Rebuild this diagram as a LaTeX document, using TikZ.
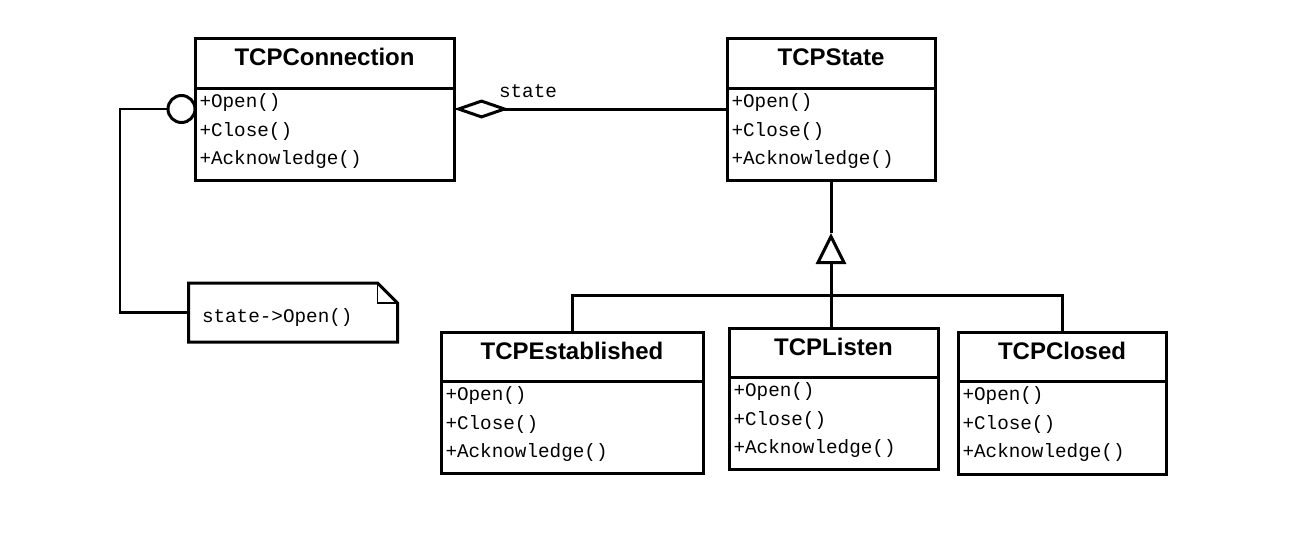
\documentclass[tikz,border=0pt]{standalone}
\usepackage{fontspec}
\setmainfont{Liberation Sans}
\setmonofont{Liberation Mono}
\usetikzlibrary{arrows.meta,positioning,calc}

\begin{document}
\begin{tikzpicture}[x=1pt,y=-1pt,line width=3pt,
  clase/.style={draw,rectangle,inner sep=0pt,outer sep=0pt},
  titulo/.style={font=\fontsize{24}{24}\selectfont\bfseries,inner sep=0pt},
  metodo/.style={font=\fontsize{19.3}{19.3}\selectfont\ttfamily,inner sep=0pt,anchor=base west}]
  \useasboundingbox (0,0) rectangle (1308,533);
  % clases
  \foreach \nm/\ti/\xa/\ya/\xb/\yb/\yd in {
      conn/TCPConnection/195/38/454/180/88,
      tcpstate/TCPState/727/38/935/180/88,
      est/TCPEstablished/441/332/703/473/381,
      lis/TCPListen/729/328/938/469/377,
      clo/TCPClosed/958/332/1166/474/381}{
    \node[clase,minimum width={(\xb-\xa)*1pt},minimum height={(\yb-\ya)*1pt}] (\nm) at ({(\xa+\xb)/2},{(\ya+\yb)/2}) {};
    \draw (\xa,\yd) -- (\xb,\yd);
    \node[titulo] (\nm-t) at ({(\xa+\xb)/2},\ya+19) {\ti};
    \foreach \m/\dy in {Open/19.5,Close/48,Acknowledge/76.5}
      \node[metodo] (\nm-\m) at (\xa+3,\yd+\dy) {+\m()};
  }
  % nota
  \node[circle,draw,minimum size=27pt,inner sep=0pt,outer sep=0pt,left=0pt of conn.west] (nota-circ) {};
  \node[inner sep=0pt,outer sep=0pt,minimum width=209pt,minimum height=59pt] (nota) at (293,312.5) {};
  \draw (nota.north west) -- ([xshift=-20pt]nota.north east) -- ([yshift=-20pt]nota.north east)
    -- (nota.south east) -- (nota.south west) -- cycle;
  \draw[line width=1.2pt] ([xshift=-20pt]nota.north east) -- ([xshift=-20pt,yshift=-20pt]nota.north east)
    -- ([yshift=-20pt]nota.north east);
  \node[metodo] (nota-txt) at ($(nota.west)+(12,10)$) {state->Open()};
  \coordinate (codo) at (120,109);
  \draw[line width=2.5pt] (nota-circ.west) -- (codo) |- (nota.west);
  % agregacion
  \draw[{Diamond[open,length=55pt,width=19pt]}-] (conn.east) -- (tcpstate.west);
  \node[metodo,anchor=center] (rol) at (528,91) {state};
  % herencia
  \coordinate (vertice) at (tcpstate.south |- 0,233);
  \coordinate (union) at (tcpstate.south |- 0,295);
  \draw (tcpstate.south) -- (vertice);
  \draw[-{Triangle[open,length=31pt,width=30pt]}] (union) -- (vertice);
  \draw (est.north) |- (union) -| (clo.north);
  \draw (union) -- (union |- lis.north);
\end{tikzpicture}
\end{document}
